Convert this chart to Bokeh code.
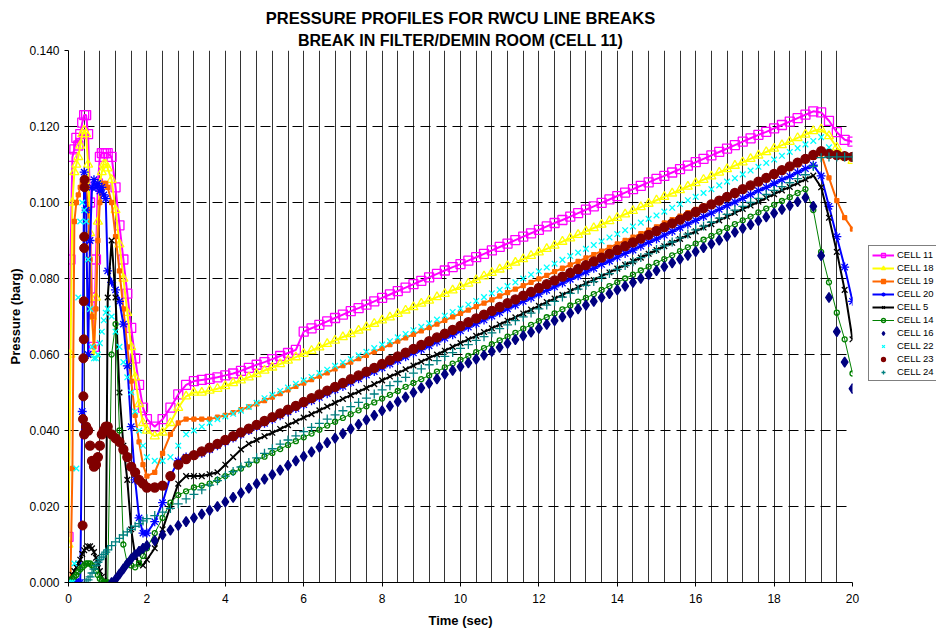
import numpy as np
from bokeh.plotting import figure
from bokeh.layouts import row
from bokeh.models import (Range1d, SingleIntervalTicker, NumeralTickFormatter, Legend,
                          LegendItem, Title, ColumnDataSource)
from bokeh.embed import file_html
from bokeh.resources import INLINE

NA = float("nan")

TIME = [0.0, 0.05, 0.1, 0.15, 0.2, 0.25, 0.3, 0.35, 0.4, 0.45, 0.5, 0.55, 0.6, 0.65, 0.7, 0.75, 0.8, 0.85, 0.9, 0.95, 1.0,
        1.1, 1.2, 1.3, 1.4, 1.5, 1.6, 1.7, 1.8, 1.9, 2.0,
        2.2, 2.4, 2.6, 2.8, 3.0, 3.2, 3.4, 3.6, 3.8, 4.0,
        4.2, 4.4, 4.6, 4.8, 5.0, 5.2, 5.4, 5.6, 5.8, 6.0,
        6.2, 6.4, 6.6, 6.8, 7.0, 7.2, 7.4, 7.6, 7.8, 8.0,
        8.2, 8.4, 8.6, 8.8, 9.0, 9.2, 9.4, 9.6, 9.8, 10.0,
        10.2, 10.4, 10.6, 10.8, 11.0, 11.2, 11.4, 11.6, 11.8, 12.0,
        12.2, 12.4, 12.6, 12.8, 13.0, 13.2, 13.4, 13.6, 13.8, 14.0,
        14.2, 14.4, 14.6, 14.8, 15.0, 15.2, 15.4, 15.6, 15.8, 16.0,
        16.2, 16.4, 16.6, 16.8, 17.0, 17.2, 17.4, 17.6, 17.8, 18.0,
        18.2, 18.4, 18.6, 18.8, 19.0, 19.2, 19.4, 19.6, 19.8, 20.0]

CELL_11 = [.012, .085, .112, .114, .117, .115, .118, .121, .123, .123, .118, .100, .075, .062, .085, .105, .112, .113, .113, .113, .113,
           .112, .104, .094, .085, .076, .067, .059, .052, .046, .043,
           .0410, .0430, .0460, .0495, .0520, .0530, .0533, .0536, .0540, .0545,
           .0550, .0557, .0565, .0573, .0580, .0588, .0596, .0604, .0612, .0660,
           .0669, .0678, .0687, .0696, .0705, .0714, .0722, .0731, .0740, .0749,
           .0758, .0767, .0776, .0785, .0794, .0803, .0812, .0821, .0830, .0838,
           .0847, .0856, .0865, .0874, .0883, .0892, .0901, .0910, .0919, .0928,
           .0937, .0946, .0954, .0963, .0972, .0981, .0990, .0999, .1008, .1017,
           .1026, .1035, .1044, .1053, .1062, .1070, .1079, .1088, .1097, .1106,
           .1115, .1124, .1133, .1142, .1151, .1160, .1169, .1178, .1186, .1195,
           .1204, .1213, .1222, .1231, .1240, .1237, .1215, .1185, .1165, .1160]

CELL_18 = [.010, .060, .100, .108, .110, .112, .115, .118, .119, .118, .110, .092, .070, .060, .075, .095, .105, .108, .110, .110, .109,
           .106, .098, .089, .080, .071, .062, .054, .047, .042, .040,
           .0385, .0395, .0420, .0460, .0490, .0500, .0500, .0505, .0510, .0517,
           .0525, .0532, .0540, .0549, .0558, .0566, .0575, .0584, .0593, .0602,
           .0610, .0619, .0628, .0637, .0646, .0654, .0663, .0672, .0681, .0690,
           .0698, .0707, .0716, .0725, .0734, .0742, .0751, .0760, .0769, .0778,
           .0787, .0796, .0806, .0815, .0824, .0833, .0842, .0851, .0860, .0869,
           .0878, .0887, .0897, .0906, .0915, .0924, .0933, .0942, .0951, .0960,
           .0969, .0978, .0988, .0997, .1006, .1015, .1024, .1033, .1042, .1051,
           .1060, .1069, .1079, .1088, .1097, .1106, .1115, .1124, .1133, .1142,
           .1151, .1160, .1170, .1179, .1188, .1193, .1175, .1145, .1120, .1110]

CELL_19 = [.000, .000, .030, .095, .100, .102, .104, .105, .106, .104, .098, .085, .070, .062, .072, .090, .100, .104, .105, .105, .104,
           .100, .091, .082, .072, .062, .053, .044, .037, .031, .028,
           .0290, .0340, .0390, .0420, .0430, .0430, .0430, .0430, .0435, .0440,
           .0447, .0455, .0462, .0470, .0479, .0488, .0497, .0507, .0516, .0525,
           .0534, .0543, .0552, .0562, .0571, .0580, .0589, .0598, .0607, .0616,
           .0626, .0635, .0644, .0653, .0662, .0671, .0680, .0690, .0699, .0708,
           .0717, .0726, .0735, .0744, .0754, .0763, .0772, .0781, .0790, .0799,
           .0808, .0818, .0827, .0836, .0845, .0854, .0863, .0872, .0882, .0891,
           .0900, .0909, .0918, .0927, .0936, .0946, .0955, .0964, .0973, .0982,
           .0991, .1000, .1010, .1019, .1028, .1037, .1046, .1055, .1064, .1074,
           .1083, .1092, .1101, .1110, .1119, .1128, .1065, .1005, .0960, .0930]

CELL_20 = [0, 0, 0, 0, 0, 0, 0, .045, .108, .098, .060, .090, .104, .106, .104, .105, .103, .104, .102, .101, .082,
           .079, .077, .074, .068, .057, .041, .027, .017, .013, .013,
           .0160, .0210, .0280, .0320, .0330, .0335, .0340, .0350, .0360, .0370,
           .0380, .0390, .0400, .0410, .0419, .0429, .0439, .0449, .0458, .0468,
           .0478, .0487, .0497, .0507, .0516, .0526, .0536, .0546, .0555, .0565,
           .0575, .0584, .0594, .0604, .0613, .0623, .0633, .0643, .0652, .0662,
           .0672, .0681, .0691, .0701, .0710, .0720, .0730, .0740, .0749, .0759,
           .0769, .0778, .0788, .0798, .0807, .0817, .0827, .0837, .0846, .0856,
           .0866, .0875, .0885, .0895, .0904, .0914, .0924, .0934, .0943, .0953,
           .0963, .0972, .0982, .0992, .1001, .1011, .1021, .1031, .1040, .1050,
           .1060, .1069, .1079, .1089, .1098, .1070, .0990, .0910, .0830, .0740]

CELL_5 = [0, .001, .002, .003, .004, .005, .006, .0075, .0085, .009, .0095, .0095, .009, .008, .0065, .005, .003, .0015, .0005, 0, .075,
          .090, .075, .050, .036, .027, .014, .007, .005, .0045, .006,
          .0090, .0140, .0200, .0260, .0280, .0280, .0280, .0285, .0290, .0310,
          .0330, .0350, .0365, .0375, .0385, .0394, .0404, .0414, .0424, .0434,
          .0443, .0453, .0463, .0473, .0483, .0493, .0502, .0512, .0522, .0532,
          .0542, .0551, .0561, .0571, .0581, .0591, .0600, .0610, .0620, .0630,
          .0640, .0649, .0659, .0669, .0679, .0689, .0698, .0708, .0718, .0728,
          .0738, .0747, .0757, .0767, .0777, .0787, .0796, .0806, .0816, .0826,
          .0836, .0845, .0855, .0865, .0875, .0885, .0894, .0904, .0914, .0924,
          .0934, .0943, .0953, .0963, .0973, .0983, .0992, .1002, .1012, .1022,
          .1032, .1041, .1051, .1061, .1071, .1040, .0960, .0870, .0770, .0640]

CELL_14 = [0, .0005, .001, .0015, .002, .0028, .0035, .004, .0045, .005, .005, .005, .0045, .004, .003, .002, .001, .0005, 0, 0, 0,
           .060, .068, .040, .010, .005, .0045, .004, .005, .007, .009,
           .0130, .0170, .0210, .0230, .0240, .0250, .0255, .0260, .0270, .0280,
           .0290, .0300, .0311, .0321, .0331, .0341, .0351, .0362, .0372, .0382,
           .0392, .0402, .0413, .0423, .0433, .0443, .0453, .0464, .0474, .0484,
           .0494, .0504, .0515, .0525, .0535, .0545, .0555, .0566, .0576, .0586,
           .0596, .0606, .0617, .0627, .0637, .0647, .0657, .0668, .0678, .0688,
           .0698, .0708, .0719, .0729, .0739, .0749, .0759, .0770, .0780, .0790,
           .0800, .0810, .0821, .0831, .0841, .0851, .0861, .0872, .0882, .0892,
           .0902, .0912, .0923, .0933, .0943, .0953, .0963, .0974, .0984, .0994,
           .1004, .1014, .1025, .1035, .0980, .0870, .0790, .0710, .0640, .0550]

CELL_16 = [NA, NA, NA, NA, NA, NA, NA, NA, NA, NA, NA, NA, NA, NA, NA, NA, NA, NA, NA, NA, NA,
           0.0, .0008, .0022, .0036, .005, .0062, .0073, .0082, .009, .0097,
           .0110, .0125, .0138, .0150, .0160, .0170, .0180, .0190, .0200, .0212,
           .0224, .0236, .0248, .0260, .0272, .0284, .0296, .0308, .0320, .0332,
           .0344, .0356, .0368, .0380, .0392, .0404, .0416, .0428, .0440, .0452,
           .0464, .0476, .0488, .0500, .0512, .0524, .0536, .0548, .0558, .0568,
           .0578, .0588, .0598, .0608, .0619, .0629, .0639, .0649, .0659, .0669,
           .0679, .0689, .0699, .0709, .0720, .0730, .0740, .0750, .0760, .0770,
           .0780, .0790, .0800, .0810, .0821, .0831, .0841, .0851, .0861, .0871,
           .0881, .0891, .0901, .0911, .0922, .0932, .0942, .0952, .0962, .0972,
           .0982, .0992, .1002, .1013, .0990, .0860, .0750, .0660, .0580, .0510]

CELL_22 = [0, 0, 0, .005, .030, .075, .095, .100, .098, .095, .085, .072, .062, .059, .059, .060, .063, .066, .069, .071, .072,
           .070, .066, .062, .058, .054, .050, .045, .040, .036, .033,
           .0320, .0320, .0330, .0360, .0390, .0400, .0410, .0420, .0430, .0437,
           .0444, .0452, .0462, .0473, .0485, .0494, .0504, .0513, .0523, .0532,
           .0541, .0551, .0560, .0570, .0579, .0588, .0598, .0607, .0617, .0626,
           .0635, .0645, .0654, .0664, .0673, .0682, .0692, .0702, .0712, .0721,
           .0731, .0741, .0751, .0761, .0770, .0780, .0790, .0800, .0810, .0819,
           .0829, .0839, .0849, .0859, .0868, .0878, .0888, .0898, .0908, .0917,
           .0927, .0937, .0947, .0957, .0966, .0976, .0986, .0996, .1006, .1015,
           .1025, .1035, .1045, .1055, .1064, .1074, .1084, .1094, .1104, .1113,
           .1123, .1133, .1143, .1153, .1162, .1172, .1145, .1125, .1120, .1120]

CELL_23 = [NA, NA, NA, NA, NA, NA, NA, NA, .039, .041, .040, .036, .032, .0305, .031, .033, .036, .039, .040, .041, .041,
           .039, .038, .037, .035, .033, .0305, .029, .027, .026, .025,
           .0250, .0255, .0280, .0310, .0325, .0335, .0345, .0355, .0365, .0375,
           .0385, .0395, .0405, .0415, .0425, .0435, .0445, .0455, .0465, .0475,
           .0485, .0495, .0505, .0515, .0525, .0535, .0545, .0555, .0565, .0575,
           .0585, .0595, .0605, .0615, .0625, .0635, .0645, .0655, .0665, .0675,
           .0685, .0695, .0705, .0715, .0725, .0735, .0745, .0755, .0765, .0775,
           .0785, .0795, .0805, .0815, .0825, .0835, .0845, .0855, .0865, .0875,
           .0885, .0895, .0905, .0915, .0925, .0935, .0945, .0955, .0965, .0975,
           .0985, .0995, .1005, .1015, .1025, .1035, .1045, .1055, .1065, .1075,
           .1085, .1095, .1105, .1115, .1125, .1135, .1128, .1125, .1122, .1120]

# fast rise of CELL 23 just after the break (sampled more finely)
CELL_23_RISE_T = [0.36, 0.37, 0.38, 0.38, 0.39, 0.39, 0.40, 0.40, 0.41, 0.41]
CELL_23_RISE_V = [0.015, 0.043, 0.049, 0.059, 0.064, 0.074, 0.088, 0.091, 0.104, 0.106]

CELL_24 = [NA, NA, NA, NA, NA, NA, NA, NA, NA, 0.0, .0007, .0015, .0025, .0035, .0045, .0053, .006, .0067, .0074, .008, .0086,
           .0097, .0107, .0116, .0125, .0133, .0140, .0148, .0155, .0162, .0168,
           .0176, .0185, .0195, .0207, .0220, .0232, .0244, .0256, .0268, .0280,
           .0292, .0304, .0316, .0328, .0340, .0352, .0364, .0375, .0386, .0397,
           .0408, .0419, .0430, .0441, .0452, .0463, .0474, .0485, .0496, .0507,
           .0518, .0529, .0540, .0551, .0562, .0573, .0584, .0595, .0605, .0616,
           .0626, .0637, .0647, .0657, .0668, .0678, .0689, .0699, .0709, .0720,
           .0730, .0740, .0751, .0761, .0772, .0782, .0792, .0803, .0813, .0824,
           .0834, .0844, .0855, .0865, .0876, .0886, .0896, .0907, .0917, .0928,
           .0938, .0948, .0959, .0969, .0980, .0990, .1000, .1011, .1021, .1032,
           .1042, .1052, .1063, .1073, .1095, .1118, .1120, .1120, .1120, .1120]

LABELS = ["CELL 11", "CELL 18", "CELL 19", "CELL 20", "CELL 5",
          "CELL 14", "CELL 16", "CELL 22", "CELL 23", "CELL 24"]

src = ColumnDataSource(data=dict(
    t=np.array(TIME, dtype=float),
    c11=np.array(CELL_11, dtype=float), c18=np.array(CELL_18, dtype=float),
    c19=np.array(CELL_19, dtype=float), c20=np.array(CELL_20, dtype=float),
    c5=np.array(CELL_5, dtype=float), c14=np.array(CELL_14, dtype=float),
    c16=np.array(CELL_16, dtype=float), c22=np.array(CELL_22, dtype=float),
    c23=np.array(CELL_23, dtype=float), c24=np.array(CELL_24, dtype=float)))
rise_src = ColumnDataSource(data=dict(t=np.array(CELL_23_RISE_T), v=np.array(CELL_23_RISE_V)))

FONT = "Liberation Sans"
TOP = 50
FRAME_H = 532

p = figure(frame_width=784, frame_height=FRAME_H, x_range=Range1d(0, 20), y_range=Range1d(0, 0.14),
           output_backend="svg", toolbar_location=None, title=None,
           min_border_left=68, min_border_top=TOP, min_border_bottom=0, min_border_right=12,
           background_fill_color="white", border_fill_color="white")
p.outline_line_color = None

# titles (first added sits closest to plot)
t2 = Title(text="BREAK IN FILTER/DEMIN ROOM (CELL 11)", align="center", text_font=FONT,
           text_font_size="16px", text_font_style="bold", text_color="black", standoff=4)
t1 = Title(text="PRESSURE PROFILES FOR RWCU LINE BREAKS", align="center", text_font=FONT,
           text_font_size="16.5px", text_font_style="bold", text_color="black", standoff=2)
p.add_layout(t2, "above")
p.add_layout(t1, "above")

# axes
p.xaxis.ticker = SingleIntervalTicker(interval=2, num_minor_ticks=0)
p.yaxis.ticker = SingleIntervalTicker(interval=0.02, num_minor_ticks=0)
p.yaxis.formatter = NumeralTickFormatter(format="0.000")
for ax in (p.xaxis[0], p.yaxis[0]):
    ax.axis_line_color = "black"
    ax.axis_line_width = 1
    ax.major_tick_line_color = "black"
    ax.major_tick_out = 4
    ax.major_tick_in = 0
    ax.minor_tick_out = 0
    ax.minor_tick_in = 0
    ax.major_label_text_font = FONT
    ax.major_label_text_font_size = "12px"
    ax.major_label_text_color = "black"
    ax.axis_label_text_font = FONT
    ax.axis_label_text_font_style = "bold"
    ax.axis_label_text_font_size = "13px"
    ax.axis_label_text_color = "black"
p.xaxis.axis_label = "Time (sec)"
p.yaxis.axis_label = "Pressure (barg)"
p.xaxis.major_label_standoff = 7
p.xaxis.axis_label_standoff = 7
p.yaxis.major_label_standoff = 5
p.yaxis.axis_label_standoff = 3

# grids
p.xgrid.ticker = SingleIntervalTicker(interval=0.4, num_minor_ticks=0)
p.xgrid.grid_line_color = "black"
p.xgrid.grid_line_alpha = 0.8
p.xgrid.grid_line_width = 1
p.ygrid.grid_line_color = "black"
p.ygrid.grid_line_width = 1
p.ygrid.grid_line_dash = "10 6"

# series styles: (column, color, marker, size, filled, line width or None)
STYLES = [
    ("c11", "#FF00FF", "square", 9, False, 2),
    ("c18", "#FFFF00", "triangle", 9, False, 2),
    ("c19", "#FF6600", "square", 4, True, 2),
    ("c20", "#0000FF", "asterisk", 9, False, 2),
    ("c5", "#000000", "x", 8, False, 2),
    ("c14", "#008000", "circle", 5, False, 1),
    ("c16", "#000080", "diamond", 10, True, None),
    ("c22", "#00FFFF", "x", 8, False, None),
    ("c23", "#800000", "circle", 9, True, None),
    ("c24", "#008080", "cross", 9, False, None),
]

# legend lives in a narrow companion panel to the right of the plot area
lf = figure(frame_width=72, frame_height=FRAME_H, x_range=Range1d(0, 1), y_range=Range1d(0, 1),
            output_backend="svg", toolbar_location=None, title=None,
            x_axis_type=None, y_axis_type=None,
            min_border_left=0, min_border_right=0, min_border_top=TOP, min_border_bottom=0,
            background_fill_color="white", border_fill_color="white")
lf.outline_line_color = None
lf.grid.visible = False
dummy = ColumnDataSource(data=dict(x=[NA], y=[NA]))

items = []
for label, (col, color, marker, size, filled, lw) in zip(LABELS, STYLES):
    if lw is not None:
        p.line("t", col, source=src, line_color=color, line_width=lw)
    p.scatter("t", col, source=src, marker=marker, size=size, line_color=color,
              fill_color=color if filled else None, line_width=1.3)
    if col == "c23":
        p.scatter("t", "v", source=rise_src, marker=marker, size=size, line_color=color,
                  fill_color=color, line_width=1)
    rends = []
    if lw is not None:
        rends.append(lf.line("x", "y", source=dummy, line_color=color, line_width=lw))
    rends.append(lf.scatter("x", "y", source=dummy, marker=marker, size=min(size, 8), line_color=color,
                            fill_color=color if filled else None, line_width=1.3))
    items.append(LegendItem(label=label, renderers=rends))

legend = Legend(items=items, location=(4, 201), margin=0, padding=3, spacing=2,
                glyph_width=22, glyph_height=10, label_height=10, label_standoff=3,
                label_text_font=FONT, label_text_font_size="9.5px", label_text_color="black",
                border_line_color="black", border_line_width=1, background_fill_color="white",
                background_fill_alpha=1.0)
lf.add_layout(legend, "center")

layout = row(p, lf, spacing=0)
open("out.html", "w").write(file_html(layout, INLINE))
